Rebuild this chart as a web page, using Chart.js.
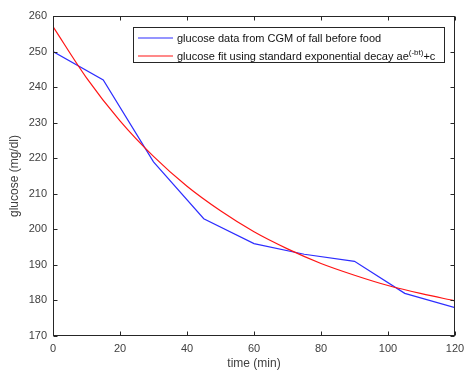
<!DOCTYPE html>
<html>
<head>
<meta charset="UTF-8">
<title>glucose fall</title>
<script src="https://cdn.jsdelivr.net/npm/chart.js@4/dist/chart.umd.min.js"></script>
<style>
  body { margin: 0; background: #fff; }
</style>
</head>
<body>
<canvas id="myChart" width="464" height="371"></canvas>

<script>
	// CGM readings (every 15 min) and fitted curve
	const timeMin = [0, 15, 30, 45, 60, 75, 90, 105, 120];
	const cgmGlucose = [250, 242, 219, 203, 196, 193, 191, 182, 178];
	const fitTime = [0, 10, 20, 30, 40, 50, 60, 70, 80, 90, 100, 110, 120];
	const fitGlucose = [257.0, 242.6, 230.5, 220.5, 212.1, 205.2, 199.3, 194.5, 190.4, 187.1, 184.2, 181.9, 179.9];
	const xTicks = [0, 20, 40, 60, 80, 100, 120];
	const yTicks = [170, 180, 190, 200, 210, 220, 230, 240, 250, 260];
	const legendLabels = ["glucose data from CGM of fall before food", "glucose fit using standard exponential decay ae"];

	const blue = "rgb(45,45,255)";
	const red = "rgb(255,20,20)";
	const axisColor = "#262626";
	const textColor = "#404040";
	const fontFam = "'Liberation Sans', Arial, sans-serif";

	// matlab style box, inward ticks, axis titles and legend
	const matlabBox = {
		id: "matlabBox",
		afterDraw(chart) {
			const ctx = chart.ctx;
			const a = chart.chartArea;
			const xs = chart.scales.x, ys = chart.scales.y;
			const L = Math.round(a.left) + 0.5, R = Math.round(a.right) - 0.5;
			const T = Math.round(a.top) + 0.5, B = Math.round(a.bottom) - 0.5;
			const tl = 4;
			ctx.save();
			ctx.strokeStyle = axisColor;
			ctx.lineWidth = 1;
			ctx.strokeRect(L, T, R - L, B - T);
			ctx.beginPath();
			xTicks.forEach(function(v) {
				const px = Math.round(xs.getPixelForValue(v)) + 0.5;
				ctx.moveTo(px, B); ctx.lineTo(px, B - tl);
				ctx.moveTo(px, T); ctx.lineTo(px, T + tl);
			});
			yTicks.forEach(function(v) {
				const py = Math.round(ys.getPixelForValue(v)) + 0.5;
				ctx.moveTo(L, py); ctx.lineTo(L + tl, py);
				ctx.moveTo(R, py); ctx.lineTo(R - tl, py);
			});
			ctx.stroke();

			// axis titles
			ctx.fillStyle = textColor;
			ctx.font = "12px " + fontFam;
			ctx.textAlign = "center";
			ctx.textBaseline = "middle";
			ctx.fillText("time (min)", (a.left + a.right) / 2, 364);
			ctx.translate(15, (a.top + a.bottom) / 2);
			ctx.rotate(-Math.PI / 2);
			ctx.fillText("glucose (mg/dl)", 0, 0);
			ctx.restore();

			// legend
			ctx.save();
			const lx = 133.5, ly = 27.5, lw = 311, lh = 35;
			ctx.fillStyle = "#fff";
			ctx.fillRect(lx, ly, lw, lh);
			ctx.strokeStyle = axisColor;
			ctx.lineWidth = 1;
			ctx.strokeRect(lx, ly, lw, lh);
			const rows = [38, 56];
			const cols = [blue, red];
			ctx.textAlign = "left";
			ctx.textBaseline = "middle";
			for (let i = 0; i < 2; i++) {
				ctx.beginPath();
				ctx.strokeStyle = cols[i];
				ctx.lineWidth = 1.2;
				ctx.moveTo(138, rows[i]); ctx.lineTo(173, rows[i]);
				ctx.stroke();
				ctx.fillStyle = "#111";
				ctx.font = "11px " + fontFam;
				ctx.fillText(legendLabels[i], 177, rows[i] + 1);
			}
			// superscript part of the fit label
			let x = 177 + ctx.measureText(legendLabels[1]).width;
			ctx.font = "8px " + fontFam;
			ctx.fillText("(-bt)", x, rows[1] - 3);
			x += ctx.measureText("(-bt)").width;
			ctx.font = "11px " + fontFam;
			ctx.fillText("+c", x, rows[1] + 1);
			ctx.restore();
		}
	};

	new Chart("myChart", {
		type: "line",
		data: {
			datasets: [{
				label: legendLabels[0],
				data: timeMin.map(function(t, i) { return {x: t, y: cgmGlucose[i]}; }),
				borderColor: blue,
				borderWidth: 1.2,
				pointRadius: 0,
				tension: 0,
				order: 2
			}, {
				label: legendLabels[1],
				data: fitTime.map(function(t, i) { return {x: t, y: fitGlucose[i]}; }),
				borderColor: red,
				borderWidth: 1.2,
				pointRadius: 0,
				cubicInterpolationMode: "monotone",
				order: 1
			}]
		},
		options: {
			responsive: false,
			animation: false,
			layout: {padding: {top: 16, right: 9, left: 0, bottom: 0}},
			plugins: {legend: {display: false}, tooltip: {enabled: false}},
			scales: {
				x: {
					type: "linear",
					min: 0, max: 120,
					afterFit: function(s) { s.height = 35; s.paddingLeft = 0; s.paddingRight = 0; },
					afterBuildTicks: function(s) { s.ticks = xTicks.map(function(v) { return {value: v}; }); },
					grid: {display: false, drawTicks: false},
					border: {display: false},
					ticks: {padding: 6, color: textColor, font: {family: fontFam, size: 11}, maxRotation: 0}
				},
				y: {
					min: 170, max: 260,
					afterFit: function(s) { s.width = 53; s.paddingTop = 0; s.paddingBottom = 0; },
					afterBuildTicks: function(s) { s.ticks = yTicks.map(function(v) { return {value: v}; }); },
					grid: {display: false, drawTicks: false},
					border: {display: false},
					ticks: {padding: 6, color: textColor, font: {family: fontFam, size: 11}}
				}
			}
		},
		plugins: [matlabBox]
	});
</script>
</body>
</html>
